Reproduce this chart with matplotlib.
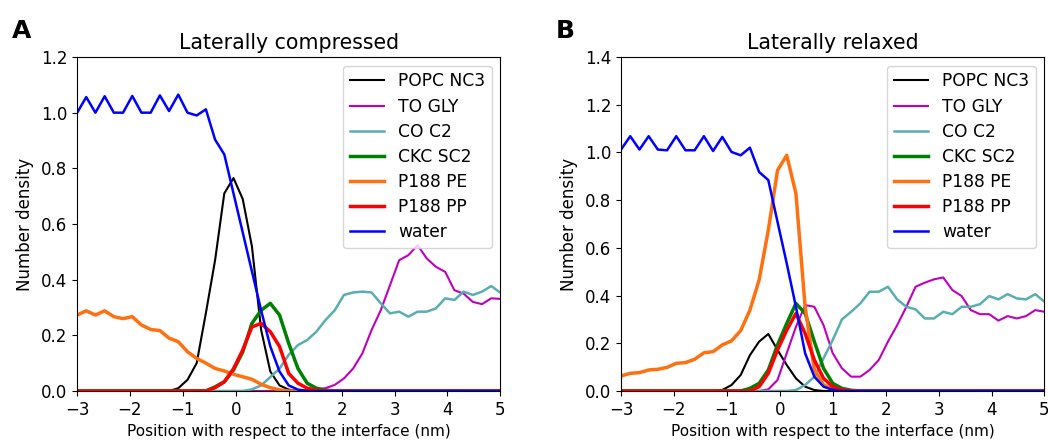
import matplotlib
matplotlib.use("Agg")
import matplotlib.pyplot as plt
import numpy as np

# bin centres, -3 .. 5 nm (47 bins)
x = np.linspace(-3, 5, 47)

labels = ["POPC NC3", "TO GLY", "CO C2", "CKC SC2", "P188 PE", "P188 PP", "water"]

# ---- A: laterally compressed ----
a_popc = [0]*11 + [0.01, 0.04, 0.10, 0.28, 0.47, 0.71, 0.765, 0.69, 0.52, 0.22, 0.07, 0.02, 0.005] + [0]*23
a_togly = [0]*24 + [0.002, 0.004, 0.006, 0.01, 0.022, 0.045, 0.081, 0.135, 0.219, 0.29, 0.38, 0.47,
                    0.488, 0.524, 0.476, 0.446, 0.428, 0.362, 0.35, 0.32, 0.312, 0.333, 0.331]
a_co = [0]*19 + [0.006, 0.02, 0.05, 0.08, 0.13, 0.165, 0.183, 0.213, 0.255, 0.29, 0.345, 0.354, 0.357,
                 0.354, 0.315, 0.279, 0.285, 0.267, 0.285, 0.285, 0.297, 0.333, 0.327, 0.357, 0.345,
                 0.357, 0.377, 0.353]
a_ckc = [0]*15 + [0.015, 0.033, 0.075, 0.14, 0.243, 0.29, 0.315, 0.273, 0.171, 0.081, 0.028, 0.01, 0.003] + [0]*19
a_pe = [0.273, 0.288, 0.273, 0.288, 0.267, 0.26, 0.267, 0.237, 0.221, 0.217, 0.19, 0.177, 0.141, 0.117,
        0.10, 0.081, 0.072, 0.06, 0.051, 0.042, 0.024, 0.012, 0.004] + [0]*24
a_pp = [0]*15 + [0.012, 0.033, 0.08, 0.147, 0.23, 0.243, 0.213, 0.16, 0.063, 0.028, 0.01, 0.003] + [0]*20
a_water = [0.999, 1.056, 1.0, 1.059, 1.0, 1.0, 1.06, 1.0, 1.0, 1.062, 1.006, 1.065, 1.0, 0.99, 1.012,
           0.903, 0.85, 0.71, 0.57, 0.43, 0.29, 0.16, 0.07, 0.02, 0.005] + [0]*22

# ---- B: laterally relaxed ----
b_popc = [0]*11 + [0.004, 0.025, 0.067, 0.15, 0.207, 0.239, 0.172, 0.109, 0.053, 0.018, 0.004] + [0]*25
b_togly = [0]*16 + [0.007, 0.046, 0.158, 0.269, 0.36, 0.353, 0.276, 0.158, 0.095, 0.06, 0.06, 0.088,
                    0.13, 0.207, 0.276, 0.353, 0.437, 0.454, 0.468, 0.476, 0.423, 0.398, 0.339, 0.322,
                    0.322, 0.295, 0.314, 0.304, 0.314, 0.339, 0.332]
b_co = [0]*19 + [0.004, 0.025, 0.06, 0.137, 0.214, 0.3, 0.332, 0.367, 0.416, 0.416, 0.437, 0.384, 0.353,
                 0.342, 0.304, 0.304, 0.332, 0.322, 0.353, 0.353, 0.364, 0.398, 0.384, 0.406, 0.388,
                 0.384, 0.406, 0.374]
b_ckc = [0]*14 + [0.011, 0.032, 0.088, 0.193, 0.283, 0.367, 0.325, 0.207, 0.095, 0.032, 0.011, 0.003] + [0]*21
b_pe = [0.063, 0.074, 0.077, 0.088, 0.091, 0.099, 0.116, 0.119, 0.133, 0.16, 0.165, 0.193, 0.21, 0.253,
        0.339, 0.465, 0.674, 0.925, 0.988, 0.828, 0.353, 0.088, 0.025, 0.007, 0.002] + [0]*22
b_pp = [0]*15 + [0.018, 0.074, 0.172, 0.255, 0.325, 0.241, 0.13, 0.053, 0.018, 0.005] + [0]*22
b_water = [1.012, 1.068, 1.012, 1.068, 1.012, 1.009, 1.068, 1.009, 1.009, 1.068, 1.006, 1.065, 1.002,
           0.988, 1.02, 0.918, 0.884, 0.709, 0.535, 0.353, 0.158, 0.06, 0.018, 0.005] + [0]*23

colors = ["k", "m", "#5aaeae", "g", "#ff7010", "r", "b"]
widths = [1.5, 1.5, 1.8, 2.5, 2.5, 2.5, 1.8]

panels = [
    ("A", "Laterally compressed", [a_popc, a_togly, a_co, a_ckc, a_pe, a_pp, a_water], 1.2),
    ("B", "Laterally relaxed", [b_popc, b_togly, b_co, b_ckc, b_pe, b_pp, b_water], 1.4),
]

fig = plt.figure(figsize=(10.48, 4.44), dpi=100)
lefts = [0.0735, 0.5926]

for left, (letter, title, series, ytop) in zip(lefts, panels):
    ax = fig.add_axes([left, 0.1194, 0.4040, 0.7522])
    for y, lab, c, w in zip(series, labels, colors, widths):
        ax.plot(x, y, color=c, lw=w, label=lab)
    ax.set_xlim(-3, 5)
    ax.set_ylim(0, ytop)
    ax.set_yticks(np.arange(0, ytop + 0.01, 0.2))
    ax.tick_params(labelsize=12)
    ax.set_title(title, fontsize=14.8)
    ax.set_xlabel("Position with respect to the interface (nm)", fontsize=11)
    ax.set_ylabel("Number density", fontsize=12, labelpad=5)
    ax.legend(loc="upper right", fontsize=12.3, labelspacing=0.42)
    fig.text(left - 0.062, 0.914, letter, fontsize=18, fontweight="bold")

fig.savefig("out.png", dpi=100)
